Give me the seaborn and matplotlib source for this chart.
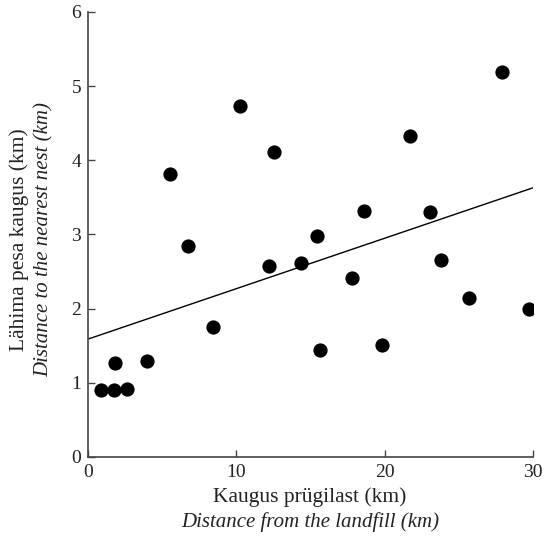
import matplotlib
matplotlib.use('Agg')
import matplotlib.pyplot as plt
import seaborn as sns
import pandas as pd

# landfill distance (km) vs nearest nest distance (km)
landfill_km = [0.85, 1.73, 2.65, 1.82, 3.95, 5.53, 6.74, 8.41, 10.22, 12.2, 12.5,
               14.34, 15.4, 15.6, 17.8, 18.61, 19.78, 21.71, 23.06, 23.8, 25.71,
               27.89, 29.7]
nest_km = [0.90, 0.90, 0.91, 1.27, 1.29, 3.81, 2.85, 1.75, 4.73, 2.57, 4.11,
           2.61, 2.98, 1.44, 2.42, 3.32, 1.51, 4.33, 3.30, 2.65, 2.14,
           5.19, 2.00]

# trend line as printed in the figure
trend_x = [0, 30]
trend_y = [1.59, 3.63]

df = pd.DataFrame({'landfill': landfill_km, 'nest': nest_km})
trend = pd.DataFrame({'x': trend_x, 'y': trend_y})

sns.set_style('ticks')
plt.rcParams['font.family'] = ['Liberation Serif', 'DejaVu Serif']

fig = plt.figure(figsize=(5.44, 5.45), dpi=100)
ax = fig.add_axes([0.162, 0.1615, 0.818, 0.8165])

sns.lineplot(data=trend, x='x', y='y', ax=ax, color='black', lw=1.0)
sns.scatterplot(data=df, x='landfill', y='nest', ax=ax, s=105, color='black',
                linewidth=0, zorder=3)

ax.set_xlim(0, 30)
ax.set_ylim(0, 6)
ax.set_xticks([0, 10, 20, 30])
ax.set_yticks(range(0, 7))
ax.tick_params(direction='in', length=5, width=1, colors='#444444', labelcolor='#222222',
               labelsize=14, pad=5)
sns.despine(ax=ax)
for s in ['left', 'bottom']:
    ax.spines[s].set_color('#444444')
    ax.spines[s].set_linewidth(1.2)
ax.set_xlabel('')
ax.set_ylabel('')

fig.text(0.570, 0.088, 'Kaugus prügilast (km)', ha='center', va='center', fontsize=15.5, color='#222222')
fig.text(0.570, 0.042, 'Distance from the landfill (km)', ha='center', va='center', fontsize=15,
         style='italic', color='#222222')
fig.text(0.036, 0.56, 'Lähima pesa kaugus (km)', ha='center', va='center', rotation=90,
         fontsize=15.5, color='#222222')
fig.text(0.081, 0.56, 'Distance to the nearest nest (km)', ha='center', va='center', rotation=90,
         fontsize=15, style='italic', color='#222222')

plt.savefig('out.png', dpi=100)
plt.close()
